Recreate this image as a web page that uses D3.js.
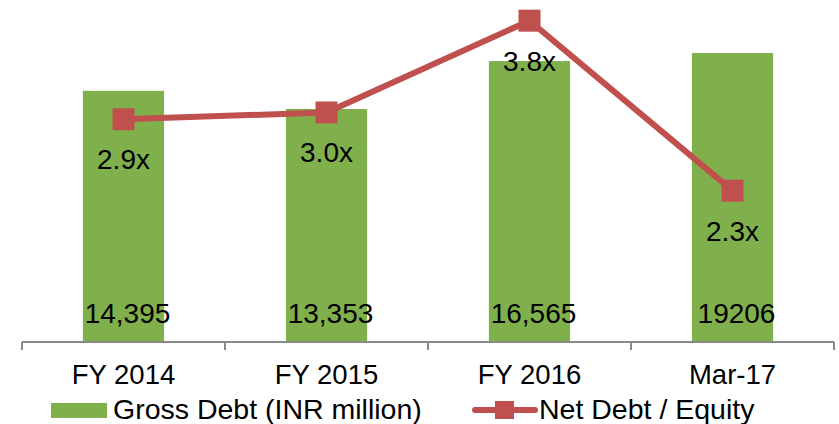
<!DOCTYPE html>
<html>
<head>
<meta charset="utf-8">
<script src="https://cdn.jsdelivr.net/npm/d3@7"></script>
<style>
  body { margin: 0; background: #fff; }
  text { font-family: "Liberation Sans", Arial, sans-serif; fill: #000; }
</style>
</head>
<body>
<div class="chart"></div>
<script>
//Data
var categories = ["FY 2014", "FY 2015", "FY 2016", "Mar-17"];
var grossDebt = [14395, 13353, 16100, 16565];
var grossDebtLabels = ["14,395", "13,353", "16,565", "19206"];
var netDebtEquity = [2.93, 2.99, 3.8, 2.3];
var netDebtEquityLabels = ["2.9x", "3.0x", "3.8x", "2.3x"];

//Width and height
var w = 839;
var h = 424;
var green = "#80B04C";
var red = "#C0504D";

//Create SVG element
var svg = d3.select(".chart")
    .append("svg")
    .attr("width", w)
    .attr("height", h);

//Scales
var x = d3.scaleBand()
    .domain(categories)
    .range([22, 834])
    .paddingInner(0.6)
    .paddingOuter(0.3);

var yBar = d3.scaleLinear()
    .domain([0, 20000])
    .range([342, -7]);

var yLine = d3.scaleLinear()
    .domain([1, 4])
    .range([338, -2]);

//Bars
svg.append("g")
    .selectAll("rect")
    .data(grossDebt)
    .join("rect")
    .attr("x", (d, i) => x(categories[i]))
    .attr("y", d => yBar(d))
    .attr("width", x.bandwidth())
    .attr("height", d => yBar(0) - yBar(d))
    .attr("fill", green);

//Bar labels
svg.append("g")
    .selectAll("text")
    .data(grossDebtLabels)
    .join("text")
    .attr("x", (d, i) => x(categories[i]) + x.bandwidth() / 2 + 4)
    .attr("y", yBar(0) - 19)
    .attr("text-anchor", "middle")
    .style("font-size", "28px")
    .text(d => d);

//X axis
var axis = svg.append("g")
    .attr("transform", "translate(0," + yBar(0) + ")");

axis.append("line")
    .attr("x1", 22)
    .attr("x2", 834)
    .attr("stroke", "#898989")
    .attr("stroke-width", 2);

axis.selectAll(".tick")
    .data(d3.range(categories.length + 1))
    .join("line")
    .attr("class", "tick")
    .attr("x1", i => 22 + i * x.step())
    .attr("x2", i => 22 + i * x.step())
    .attr("y1", 0)
    .attr("y2", 8)
    .attr("stroke", "#898989")
    .attr("stroke-width", 2);

axis.selectAll("text")
    .data(categories)
    .join("text")
    .attr("x", d => x(d) + x.bandwidth() / 2)
    .attr("y", 42)
    .attr("text-anchor", "middle")
    .style("font-size", "27.5px")
    .text(d => d);

//Line
var line = d3.line()
    .x((d, i) => x(categories[i]) + x.bandwidth() / 2)
    .y(d => yLine(d));

svg.append("path")
    .datum(netDebtEquity)
    .attr("d", line)
    .attr("fill", "none")
    .attr("stroke", red)
    .attr("stroke-width", 6);

svg.append("g")
    .selectAll("rect")
    .data(netDebtEquity)
    .join("rect")
    .attr("x", (d, i) => x(categories[i]) + x.bandwidth() / 2 - 11)
    .attr("y", d => yLine(d) - 11)
    .attr("width", 22)
    .attr("height", 22)
    .attr("fill", red);

//Line labels
svg.append("g")
    .selectAll("text")
    .data(netDebtEquity)
    .join("text")
    .attr("x", (d, i) => x(categories[i]) + x.bandwidth() / 2)
    .attr("y", d => yLine(d) + 50)
    .attr("text-anchor", "middle")
    .style("font-size", "28px")
    .text((d, i) => netDebtEquityLabels[i]);

//Legend
var legend = svg.append("g");

legend.append("rect")
    .attr("x", 51)
    .attr("y", 403)
    .attr("width", 56)
    .attr("height", 15)
    .attr("fill", green);

legend.append("text")
    .attr("x", 113)
    .attr("y", 419)
    .style("font-size", "28.5px")
    .text("Gross Debt (INR million)");

legend.append("line")
    .attr("x1", 475)
    .attr("x2", 535)
    .attr("y1", 410)
    .attr("y2", 410)
    .attr("stroke", red)
    .attr("stroke-width", 6)
    .attr("stroke-linecap", "round");

legend.append("rect")
    .attr("x", 495)
    .attr("y", 401)
    .attr("width", 19)
    .attr("height", 18)
    .attr("fill", red);

legend.append("text")
    .attr("x", 539)
    .attr("y", 419)
    .style("font-size", "28.5px")
    .text("Net Debt / Equity");
</script>
</body>
</html>
